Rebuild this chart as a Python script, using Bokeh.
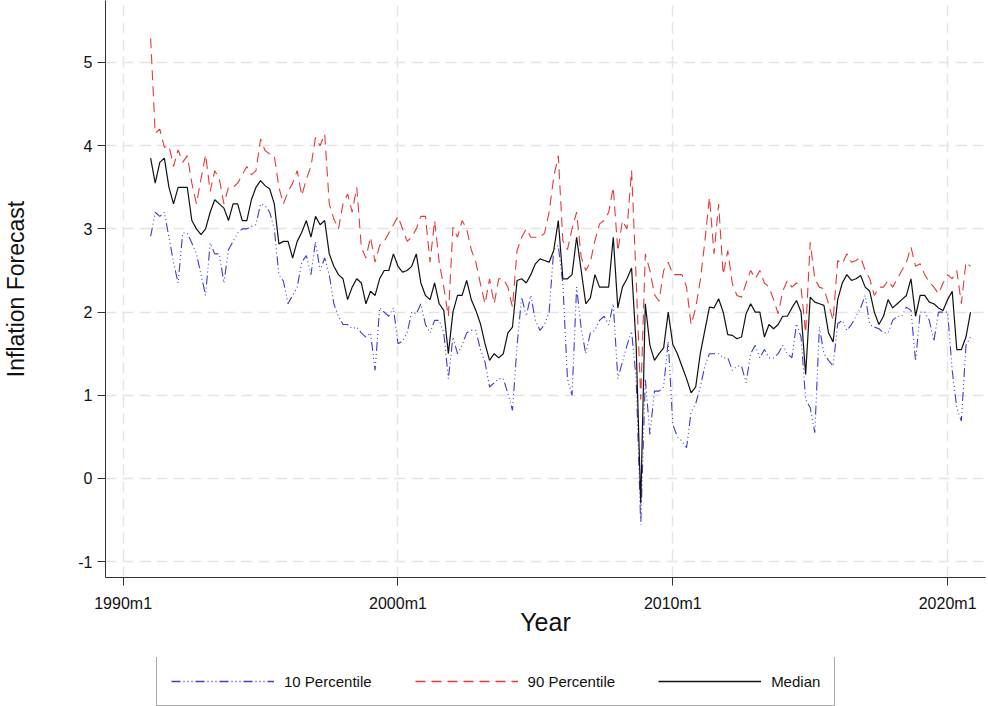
import numpy as np
from bokeh.plotting import figure
from bokeh.layouts import column
from bokeh.models import FixedTicker, Range1d
from bokeh.embed import file_html
from bokeh.resources import INLINE

# Bi-monthly observations (Jan, Mar, May, Jul, Sep, Nov), 1991 - 2020
start_year = 1991
obs_per_year = 6

median = [
    3.85, 3.55, 3.8, 3.85, 3.5, 3.3,
    3.5, 3.5, 3.5, 3.1, 3.0, 2.93,
    3.0, 3.2, 3.35, 3.3, 3.25, 3.1,
    3.3, 3.3, 3.1, 3.1, 3.35, 3.5,
    3.58, 3.52, 3.48, 3.3, 2.82, 2.85,
    2.85, 2.65, 2.85, 2.96, 3.1, 2.9,
    3.15, 3.05, 3.1, 2.7, 2.55, 2.45,
    2.4, 2.15, 2.3, 2.4, 2.35, 2.1,
    2.25, 2.2, 2.4, 2.5, 2.5, 2.7,
    2.55, 2.48, 2.5, 2.55, 2.7, 2.35,
    2.2, 2.15, 2.35, 2.1, 2.02, 1.5,
    2.0, 2.2, 2.2, 2.38, 2.15, 2.02,
    1.86, 1.62, 1.42, 1.5, 1.45, 1.5,
    1.75, 1.82, 2.38, 2.4, 2.35, 2.45,
    2.58, 2.64, 2.62, 2.6, 2.74, 3.1,
    2.4, 2.4, 2.45, 2.9, 2.5, 2.1,
    2.17, 2.45, 2.3, 2.3, 2.3, 2.9,
    2.05, 2.3, 2.4, 2.53, 1.6, -0.3,
    2.1, 1.6, 1.42, 1.5, 1.57, 2.0,
    1.61, 1.5, 1.35, 1.2, 1.03, 1.1,
    1.5, 1.78, 2.06, 2.05, 2.16, 2.0,
    1.73, 1.72, 1.68, 1.7, 1.98, 2.1,
    2.0, 2.0, 1.7, 1.85, 1.8, 1.85,
    1.95, 1.95, 2.05, 2.14, 2.0, 1.25,
    2.18, 2.12, 2.1, 2.08, 1.75, 1.64,
    2.15, 2.35, 2.45, 2.38, 2.4, 2.44,
    2.3, 2.25, 2.0, 1.85, 1.95, 2.15,
    2.05, 2.1, 2.15, 2.2, 2.4, 1.95,
    2.2, 2.2, 2.12, 2.1, 2.05, 2.02,
    2.15, 2.25, 1.55, 1.55, 1.7, 2.0,
]

p90 = [
    5.29, 4.15, 4.2, 3.98, 4.0, 3.75,
    3.95, 3.8, 3.88, 3.55, 3.3, 3.6,
    3.89, 3.45, 3.7, 3.6, 3.3, 3.5,
    3.5, 3.55, 3.65, 3.75, 3.65, 3.7,
    4.08, 3.94, 3.9, 3.88, 3.5, 3.3,
    3.45, 3.55, 3.7, 3.4, 3.6, 3.75,
    4.1, 4.0, 4.14, 3.3, 3.12, 3.0,
    3.3, 3.42, 3.2, 3.5, 2.78, 2.65,
    2.9, 2.6, 2.8, 2.85, 2.95, 3.05,
    3.15, 3.0, 2.85, 2.9, 3.0, 3.15,
    3.15, 2.6, 3.1, 2.6, 2.3, 1.95,
    3.02, 2.9, 3.1, 3.0, 2.75, 2.6,
    2.34, 2.1, 2.4, 2.1, 2.4, 2.4,
    2.3, 2.06, 2.74, 2.9, 3.0, 2.9,
    2.9, 2.9, 2.95, 3.2, 3.62, 3.88,
    2.86, 2.75, 3.0, 3.2, 2.66, 2.5,
    2.6, 2.86, 3.06, 3.1, 3.2, 3.5,
    2.73, 3.1, 3.0, 3.7, 2.4, 0.95,
    2.7, 2.5, 2.21, 2.13, 2.5, 2.6,
    2.45, 2.45, 2.45, 2.3, 1.85, 2.05,
    2.38, 2.85, 3.38, 2.7, 3.3, 2.45,
    2.74, 2.34, 2.2, 2.18, 2.35, 2.5,
    2.4, 2.5, 2.35, 2.3, 2.15, 1.98,
    2.25, 2.38, 2.3, 2.35, 2.3, 1.75,
    2.84, 2.4, 2.3, 2.28, 2.1, 1.9,
    2.62, 2.58, 2.7, 2.6, 2.62, 2.66,
    2.5, 2.4, 2.2, 2.3, 2.3, 2.38,
    2.3, 2.4, 2.5, 2.6, 2.78, 2.55,
    2.58, 2.45, 2.36, 2.3, 2.22, 2.35,
    2.45, 2.4, 2.5, 2.1, 2.6, 2.55,
]

p10 = [
    2.91, 3.2, 3.15, 3.2, 2.9, 2.6,
    2.35, 2.95, 2.95, 2.83, 2.7, 2.45,
    2.2, 2.83, 2.7, 2.7, 2.35, 2.75,
    2.85, 2.95, 3.0, 3.0, 3.03, 3.05,
    3.3, 3.28, 3.2, 3.0, 2.45, 2.37,
    2.1, 2.2, 2.3, 2.6, 2.68, 2.45,
    2.85, 2.5, 2.65, 2.45, 2.1, 1.95,
    1.85, 1.85, 1.8, 1.82, 1.75, 1.7,
    1.75, 1.3, 2.05, 2.0, 1.95, 2.05,
    1.62, 1.65, 1.75, 2.0, 1.98, 2.1,
    1.85, 1.75, 1.9, 1.9, 1.75, 1.2,
    1.7, 1.5, 1.6, 1.75, 1.78, 1.78,
    1.55, 1.4, 1.1, 1.15, 1.2, 1.2,
    1.02, 0.82, 1.6, 2.18, 1.95, 2.2,
    1.9, 1.78, 1.85, 2.0, 2.75, 2.8,
    2.34, 1.2, 1.0, 2.3, 1.8, 1.5,
    1.75, 1.78, 1.9, 1.95, 1.85, 2.1,
    1.2, 1.4, 1.6, 1.77, 1.2, -0.56,
    1.2, 0.53, 1.05, 1.05, 1.1, 1.65,
    0.65, 0.5, 0.45, 0.37, 0.8, 0.9,
    1.1, 1.35, 1.5, 1.5, 1.5, 1.45,
    1.45, 1.3, 1.35, 1.35, 1.15, 1.5,
    1.6, 1.45, 1.55, 1.45, 1.45, 1.5,
    1.6, 1.5, 1.45, 1.86, 1.7, 0.95,
    0.85, 0.55, 1.82, 1.5, 1.42, 1.35,
    1.86, 1.9, 1.78, 1.85, 1.95, 2.05,
    2.2, 1.85, 1.82, 1.8, 1.75, 1.75,
    1.9, 1.95, 1.95, 2.06, 2.02, 1.41,
    2.0, 2.0, 1.9, 1.65, 2.0, 2.0,
    2.0, 1.3, 0.85, 0.69, 1.6, 1.7,
]

series_names = ["10 Percentile", "90 Percentile", "Median"]
x_ticks = [1990, 2000, 2010, 2020]
x_tick_labels = ["1990m1", "2000m1", "2010m1", "2020m1"]
y_ticks = [-1, 0, 1, 2, 3, 4, 5]
y_tick_labels = ["-1", "0", "1", "2", "3", "4", "5"]

t = start_year + np.arange(len(median)) / obs_per_year

FONT = "Liberation Sans"
STYLES = [
    dict(line_color="#3b3bd6", line_dash="9 3 1 3 1 3 1 3"),
    dict(line_color="#e23a3a", line_dash="10 6"),
    dict(line_color="#111111"),
]
WIDTHS = [1.1, 1.1, 1.2]

p = figure(width=988, height=657, output_backend="svg", toolbar_location=None,
           x_range=Range1d(1989.358, 2021.378), y_range=Range1d(-1.19, 5.745),
           min_border_left=103, min_border_right=3, min_border_top=0,
           min_border_bottom=80)
p.outline_line_color = None
p.background_fill_color = "white"
p.border_fill_color = "white"

for ys, st, w in zip([p10, p90, median], STYLES, WIDTHS):
    p.line(t, ys, line_width=w, **st)

# axes
p.xaxis.ticker = FixedTicker(ticks=x_ticks)
p.xaxis.major_label_overrides = {k: v for k, v in zip(x_ticks, x_tick_labels)}
p.yaxis.ticker = FixedTicker(ticks=y_ticks)
p.yaxis.major_label_overrides = {k: v for k, v in zip(y_ticks, y_tick_labels)}
for ax in (p.xaxis[0], p.yaxis[0]):
    ax.axis_line_color = "#333333"
    ax.major_tick_line_color = "#333333"
    ax.minor_tick_line_color = None
    ax.major_tick_in = 0
    ax.major_tick_out = 8
    ax.major_label_text_font = FONT
    ax.major_label_text_font_size = "16px"
    ax.major_label_text_color = "#111111"
    ax.axis_label_text_font = FONT
    ax.axis_label_text_font_style = "normal"
    ax.axis_label_text_color = "#111111"

p.xaxis.axis_label = "Year"
p.xaxis.axis_label_text_font_size = "25px"
p.xaxis.major_label_standoff = 9
p.xaxis.axis_label_standoff = -7
p.yaxis.axis_label = "Inflation Forecast"
p.yaxis.axis_label_text_font_size = "23px"
p.yaxis.major_label_standoff = 5
p.yaxis.axis_label_standoff = 46

for g in (p.xgrid[0], p.ygrid[0]):
    g.grid_line_color = "#e4e4e4"
    g.grid_line_width = 1.5
    g.grid_line_dash = "11 6"
p.xgrid.ticker = FixedTicker(ticks=x_ticks)
p.ygrid.ticker = FixedTicker(ticks=y_ticks)

# legend strip below the chart (its renderers hold no visible data)
leg = figure(width=988, height=49, output_backend="svg", toolbar_location=None,
             x_range=Range1d(0, 1), y_range=Range1d(0, 1),
             min_border=0, x_axis_type=None, y_axis_type=None)
leg.outline_line_color = None
leg.grid.visible = False
for name, st in zip(series_names, STYLES):
    leg.line([np.nan], [np.nan], legend_label=name, line_width=1.6, **st)

lg = leg.legend[0]
lg.orientation = "horizontal"
lg.location = (51, 0)
lg.margin = 0
lg.padding = 14
lg.spacing = 43
lg.glyph_width = 103
lg.glyph_height = 20
lg.label_standoff = 10
lg.label_text_font = FONT
lg.label_text_font_size = "15px"
lg.label_text_color = "#111111"
lg.border_line_color = "#555555"
lg.border_line_width = 1
lg.background_fill_color = "white"
lg.background_fill_alpha = 1.0

layout = column(p, leg, spacing=0)
open("out.html", "w").write(file_html(layout, INLINE))
